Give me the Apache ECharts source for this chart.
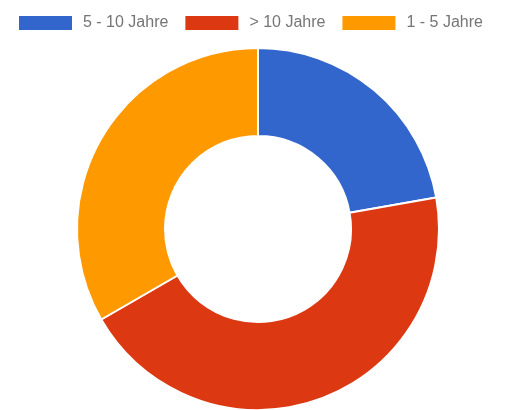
<!DOCTYPE html>
<html>
<head>
<meta charset="utf-8">
<style>
    html, body { margin: 0; padding: 0; background: #fff; }
    #chart { width: 505px; height: 410px; }
</style>
</head>
<body>
<div id="chart"></div>
<script src="https://cdn.jsdelivr.net/npm/echarts@6/dist/echarts.min.js"></script>
<script>
    var categories = ['5 - 10 Jahre', '> 10 Jahre', '1 - 5 Jahre'];
    var values = [2, 4, 3];
    var colors = ['#3366CC', '#DC3912', '#FF9900'];

    var myChart = echarts.init(document.getElementById('chart'));
    var option = {
        animation: false,
        color: colors,
        legend: {
            data: categories,
            left: 12,
            top: 9,
            itemWidth: 55,
            itemHeight: 16,
            itemGap: 15,
            icon: 'rect',
            textStyle: {
                fontFamily: 'Liberation Sans, Arial, sans-serif',
                fontSize: 16,
                color: '#757575',
                padding: [0, 0, 0, 5]
            }
        },
        series: [
            {
                type: 'pie',
                center: [258, 229],
                radius: [93, 181],
                startAngle: 90,
                clockwise: true,
                label: { show: false },
                labelLine: { show: false },
                itemStyle: { borderColor: '#fff', borderWidth: 2 },
                emphasis: { disabled: true },
                data: categories.map(function (name, i) {
                    return { name: name, value: values[i] };
                })
            }
        ]
    };
    myChart.setOption(option);
</script>
</body>
</html>
